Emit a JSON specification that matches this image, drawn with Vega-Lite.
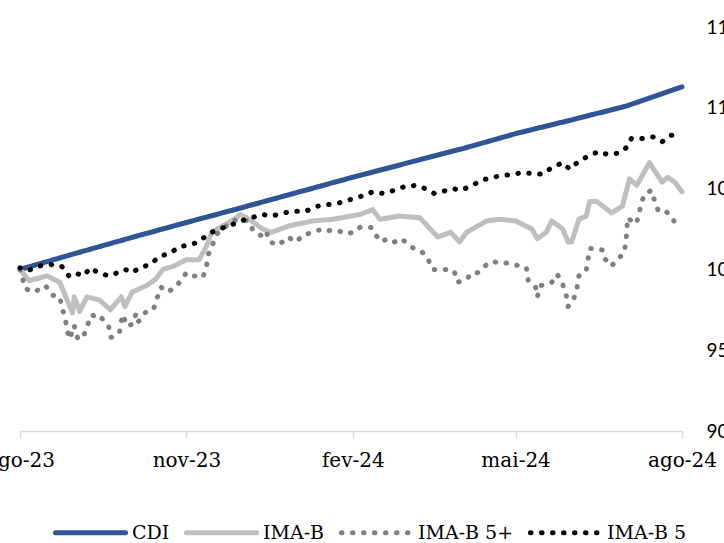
{
  "$schema": "https://vega.github.io/schema/vega-lite/v6.json",
  "width": 662,
  "height": 404,
  "autosize": {"type": "none"},
  "padding": {"left": 20, "top": 27, "right": 42, "bottom": 112},
  "background": "white",
  "config": {
    "view": {"stroke": null},
    "legend": {
      "symbolType": "stroke",
      "symbolSize": 4900,
      "symbolStrokeWidth": 5,
      "labelFont": "DejaVu Serif",
      "labelFontSize": 19,
      "labelColor": "#000000",
      "labelOffset": 4,
      "columnPadding": 6,
      "labelLimit": 300
    }
  },
  "data": {"values": [
    {"d": "2023-08-01", "s": "CDI", "v": 100.0},
    {"d": "2023-09-01", "s": "CDI", "v": 101.0},
    {"d": "2023-10-01", "s": "CDI", "v": 101.95},
    {"d": "2023-11-01", "s": "CDI", "v": 102.9},
    {"d": "2023-12-01", "s": "CDI", "v": 103.8},
    {"d": "2024-01-01", "s": "CDI", "v": 104.75},
    {"d": "2024-02-01", "s": "CDI", "v": 105.7},
    {"d": "2024-03-01", "s": "CDI", "v": 106.55},
    {"d": "2024-04-01", "s": "CDI", "v": 107.45},
    {"d": "2024-05-01", "s": "CDI", "v": 108.4},
    {"d": "2024-06-01", "s": "CDI", "v": 109.25},
    {"d": "2024-07-01", "s": "CDI", "v": 110.1},
    {"d": "2024-08-01", "s": "CDI", "v": 111.3},

    {"d": "2023-08-01", "s": "IMA-B", "v": 100.0},
    {"d": "2023-08-06", "s": "IMA-B", "v": 99.3},
    {"d": "2023-08-16", "s": "IMA-B", "v": 99.6},
    {"d": "2023-08-23", "s": "IMA-B", "v": 99.2},
    {"d": "2023-08-30", "s": "IMA-B", "v": 97.3},
    {"d": "2023-08-31", "s": "IMA-B", "v": 98.3},
    {"d": "2023-09-03", "s": "IMA-B", "v": 97.4},
    {"d": "2023-09-07", "s": "IMA-B", "v": 98.3},
    {"d": "2023-09-14", "s": "IMA-B", "v": 98.1},
    {"d": "2023-09-20", "s": "IMA-B", "v": 97.5},
    {"d": "2023-09-26", "s": "IMA-B", "v": 98.3},
    {"d": "2023-09-28", "s": "IMA-B", "v": 97.7},
    {"d": "2023-10-02", "s": "IMA-B", "v": 98.6},
    {"d": "2023-10-10", "s": "IMA-B", "v": 99.0},
    {"d": "2023-10-15", "s": "IMA-B", "v": 99.4},
    {"d": "2023-10-19", "s": "IMA-B", "v": 100.0},
    {"d": "2023-10-25", "s": "IMA-B", "v": 100.2},
    {"d": "2023-11-01", "s": "IMA-B", "v": 100.6},
    {"d": "2023-11-08", "s": "IMA-B", "v": 100.6},
    {"d": "2023-11-12", "s": "IMA-B", "v": 101.4},
    {"d": "2023-11-15", "s": "IMA-B", "v": 102.3},
    {"d": "2023-11-26", "s": "IMA-B", "v": 103.0},
    {"d": "2023-12-01", "s": "IMA-B", "v": 103.4},
    {"d": "2023-12-07", "s": "IMA-B", "v": 103.0},
    {"d": "2023-12-13", "s": "IMA-B", "v": 102.5},
    {"d": "2023-12-18", "s": "IMA-B", "v": 102.3},
    {"d": "2023-12-28", "s": "IMA-B", "v": 102.7},
    {"d": "2024-01-10", "s": "IMA-B", "v": 103.0},
    {"d": "2024-01-21", "s": "IMA-B", "v": 103.1},
    {"d": "2024-02-05", "s": "IMA-B", "v": 103.4},
    {"d": "2024-02-12", "s": "IMA-B", "v": 103.7},
    {"d": "2024-02-16", "s": "IMA-B", "v": 103.1},
    {"d": "2024-02-27", "s": "IMA-B", "v": 103.3},
    {"d": "2024-03-09", "s": "IMA-B", "v": 103.2},
    {"d": "2024-03-19", "s": "IMA-B", "v": 102.0},
    {"d": "2024-03-26", "s": "IMA-B", "v": 102.3},
    {"d": "2024-03-31", "s": "IMA-B", "v": 101.7},
    {"d": "2024-04-04", "s": "IMA-B", "v": 102.3},
    {"d": "2024-04-15", "s": "IMA-B", "v": 103.0},
    {"d": "2024-04-22", "s": "IMA-B", "v": 103.1},
    {"d": "2024-05-01", "s": "IMA-B", "v": 103.0},
    {"d": "2024-05-10", "s": "IMA-B", "v": 102.5},
    {"d": "2024-05-13", "s": "IMA-B", "v": 101.9},
    {"d": "2024-05-18", "s": "IMA-B", "v": 102.3},
    {"d": "2024-05-21", "s": "IMA-B", "v": 103.0},
    {"d": "2024-05-27", "s": "IMA-B", "v": 102.5},
    {"d": "2024-05-30", "s": "IMA-B", "v": 101.7},
    {"d": "2024-06-01", "s": "IMA-B", "v": 101.7},
    {"d": "2024-06-05", "s": "IMA-B", "v": 103.1},
    {"d": "2024-06-09", "s": "IMA-B", "v": 103.3},
    {"d": "2024-06-11", "s": "IMA-B", "v": 104.2},
    {"d": "2024-06-15", "s": "IMA-B", "v": 104.2},
    {"d": "2024-06-23", "s": "IMA-B", "v": 103.5},
    {"d": "2024-06-29", "s": "IMA-B", "v": 103.9},
    {"d": "2024-07-03", "s": "IMA-B", "v": 105.6},
    {"d": "2024-07-07", "s": "IMA-B", "v": 105.2},
    {"d": "2024-07-14", "s": "IMA-B", "v": 106.6},
    {"d": "2024-07-21", "s": "IMA-B", "v": 105.4},
    {"d": "2024-07-24", "s": "IMA-B", "v": 105.7},
    {"d": "2024-07-28", "s": "IMA-B", "v": 105.4},
    {"d": "2024-08-01", "s": "IMA-B", "v": 104.8},

    {"d": "2023-08-01", "s": "IMA-B 5+", "v": 100.0},
    {"d": "2023-08-04", "s": "IMA-B 5+", "v": 98.8},
    {"d": "2023-08-09", "s": "IMA-B 5+", "v": 98.6},
    {"d": "2023-08-15", "s": "IMA-B 5+", "v": 99.0},
    {"d": "2023-08-19", "s": "IMA-B 5+", "v": 98.4},
    {"d": "2023-08-23", "s": "IMA-B 5+", "v": 98.3},
    {"d": "2023-08-24", "s": "IMA-B 5+", "v": 97.7},
    {"d": "2023-08-26", "s": "IMA-B 5+", "v": 97.0},
    {"d": "2023-08-27", "s": "IMA-B 5+", "v": 96.2},
    {"d": "2023-08-29", "s": "IMA-B 5+", "v": 95.7},
    {"d": "2023-08-30", "s": "IMA-B 5+", "v": 96.5},
    {"d": "2023-08-31", "s": "IMA-B 5+", "v": 96.5},
    {"d": "2023-09-02", "s": "IMA-B 5+", "v": 95.7},
    {"d": "2023-09-05", "s": "IMA-B 5+", "v": 95.8},
    {"d": "2023-09-07", "s": "IMA-B 5+", "v": 96.5},
    {"d": "2023-09-10", "s": "IMA-B 5+", "v": 97.2},
    {"d": "2023-09-13", "s": "IMA-B 5+", "v": 96.9},
    {"d": "2023-09-15", "s": "IMA-B 5+", "v": 97.0},
    {"d": "2023-09-19", "s": "IMA-B 5+", "v": 96.5},
    {"d": "2023-09-20", "s": "IMA-B 5+", "v": 95.8},
    {"d": "2023-09-21", "s": "IMA-B 5+", "v": 95.8},
    {"d": "2023-09-25", "s": "IMA-B 5+", "v": 96.1},
    {"d": "2023-09-26", "s": "IMA-B 5+", "v": 96.8},
    {"d": "2023-09-27", "s": "IMA-B 5+", "v": 97.2},
    {"d": "2023-09-29", "s": "IMA-B 5+", "v": 96.5},
    {"d": "2023-10-02", "s": "IMA-B 5+", "v": 96.6},
    {"d": "2023-10-04", "s": "IMA-B 5+", "v": 97.2},
    {"d": "2023-10-05", "s": "IMA-B 5+", "v": 96.7},
    {"d": "2023-10-09", "s": "IMA-B 5+", "v": 97.3},
    {"d": "2023-10-12", "s": "IMA-B 5+", "v": 97.6},
    {"d": "2023-10-14", "s": "IMA-B 5+", "v": 97.6},
    {"d": "2023-10-16", "s": "IMA-B 5+", "v": 98.3},
    {"d": "2023-10-18", "s": "IMA-B 5+", "v": 98.9},
    {"d": "2023-10-21", "s": "IMA-B 5+", "v": 98.6},
    {"d": "2023-10-25", "s": "IMA-B 5+", "v": 98.8},
    {"d": "2023-10-29", "s": "IMA-B 5+", "v": 99.3},
    {"d": "2023-11-01", "s": "IMA-B 5+", "v": 99.8},
    {"d": "2023-11-05", "s": "IMA-B 5+", "v": 99.6},
    {"d": "2023-11-10", "s": "IMA-B 5+", "v": 99.5},
    {"d": "2023-11-12", "s": "IMA-B 5+", "v": 100.1},
    {"d": "2023-11-13", "s": "IMA-B 5+", "v": 100.9},
    {"d": "2023-11-18", "s": "IMA-B 5+", "v": 102.2},
    {"d": "2023-11-22", "s": "IMA-B 5+", "v": 102.6},
    {"d": "2023-11-27", "s": "IMA-B 5+", "v": 103.0},
    {"d": "2023-11-30", "s": "IMA-B 5+", "v": 103.1},
    {"d": "2023-12-05", "s": "IMA-B 5+", "v": 103.0},
    {"d": "2023-12-08", "s": "IMA-B 5+", "v": 102.4},
    {"d": "2023-12-12", "s": "IMA-B 5+", "v": 102.1},
    {"d": "2023-12-15", "s": "IMA-B 5+", "v": 102.4},
    {"d": "2023-12-17", "s": "IMA-B 5+", "v": 101.7},
    {"d": "2023-12-22", "s": "IMA-B 5+", "v": 101.5},
    {"d": "2023-12-27", "s": "IMA-B 5+", "v": 102.0},
    {"d": "2024-01-01", "s": "IMA-B 5+", "v": 101.7},
    {"d": "2024-01-04", "s": "IMA-B 5+", "v": 102.1},
    {"d": "2024-01-10", "s": "IMA-B 5+", "v": 102.3},
    {"d": "2024-01-15", "s": "IMA-B 5+", "v": 102.5},
    {"d": "2024-01-19", "s": "IMA-B 5+", "v": 102.4},
    {"d": "2024-01-24", "s": "IMA-B 5+", "v": 102.4},
    {"d": "2024-01-28", "s": "IMA-B 5+", "v": 102.2},
    {"d": "2024-02-02", "s": "IMA-B 5+", "v": 102.3},
    {"d": "2024-02-05", "s": "IMA-B 5+", "v": 102.6},
    {"d": "2024-02-11", "s": "IMA-B 5+", "v": 102.6},
    {"d": "2024-02-13", "s": "IMA-B 5+", "v": 102.2},
    {"d": "2024-02-17", "s": "IMA-B 5+", "v": 101.7},
    {"d": "2024-02-20", "s": "IMA-B 5+", "v": 101.9},
    {"d": "2024-02-24", "s": "IMA-B 5+", "v": 101.7},
    {"d": "2024-02-28", "s": "IMA-B 5+", "v": 101.9},
    {"d": "2024-03-03", "s": "IMA-B 5+", "v": 101.5},
    {"d": "2024-03-07", "s": "IMA-B 5+", "v": 101.2},
    {"d": "2024-03-10", "s": "IMA-B 5+", "v": 101.1},
    {"d": "2024-03-13", "s": "IMA-B 5+", "v": 100.8},
    {"d": "2024-03-16", "s": "IMA-B 5+", "v": 100.0},
    {"d": "2024-03-19", "s": "IMA-B 5+", "v": 100.0},
    {"d": "2024-03-24", "s": "IMA-B 5+", "v": 100.0},
    {"d": "2024-03-28", "s": "IMA-B 5+", "v": 99.9},
    {"d": "2024-03-30", "s": "IMA-B 5+", "v": 99.2},
    {"d": "2024-04-01", "s": "IMA-B 5+", "v": 99.3},
    {"d": "2024-04-04", "s": "IMA-B 5+", "v": 99.4},
    {"d": "2024-04-07", "s": "IMA-B 5+", "v": 99.8},
    {"d": "2024-04-10", "s": "IMA-B 5+", "v": 99.8},
    {"d": "2024-04-15", "s": "IMA-B 5+", "v": 100.3},
    {"d": "2024-04-18", "s": "IMA-B 5+", "v": 100.5},
    {"d": "2024-04-22", "s": "IMA-B 5+", "v": 100.4},
    {"d": "2024-04-27", "s": "IMA-B 5+", "v": 100.4},
    {"d": "2024-04-30", "s": "IMA-B 5+", "v": 100.3},
    {"d": "2024-05-04", "s": "IMA-B 5+", "v": 100.2},
    {"d": "2024-05-07", "s": "IMA-B 5+", "v": 100.1},
    {"d": "2024-05-08", "s": "IMA-B 5+", "v": 99.3},
    {"d": "2024-05-12", "s": "IMA-B 5+", "v": 98.9},
    {"d": "2024-05-13", "s": "IMA-B 5+", "v": 98.3},
    {"d": "2024-05-15", "s": "IMA-B 5+", "v": 99.0},
    {"d": "2024-05-21", "s": "IMA-B 5+", "v": 99.2},
    {"d": "2024-05-24", "s": "IMA-B 5+", "v": 99.7},
    {"d": "2024-05-27", "s": "IMA-B 5+", "v": 99.1},
    {"d": "2024-05-29", "s": "IMA-B 5+", "v": 98.4},
    {"d": "2024-05-30", "s": "IMA-B 5+", "v": 97.7},
    {"d": "2024-06-02", "s": "IMA-B 5+", "v": 98.1},
    {"d": "2024-06-04", "s": "IMA-B 5+", "v": 98.9},
    {"d": "2024-06-05", "s": "IMA-B 5+", "v": 99.6},
    {"d": "2024-06-09", "s": "IMA-B 5+", "v": 99.9},
    {"d": "2024-06-10", "s": "IMA-B 5+", "v": 100.6},
    {"d": "2024-06-11", "s": "IMA-B 5+", "v": 101.3},
    {"d": "2024-06-14", "s": "IMA-B 5+", "v": 101.3},
    {"d": "2024-06-18", "s": "IMA-B 5+", "v": 101.2},
    {"d": "2024-06-19", "s": "IMA-B 5+", "v": 100.7},
    {"d": "2024-06-23", "s": "IMA-B 5+", "v": 100.2},
    {"d": "2024-06-26", "s": "IMA-B 5+", "v": 100.6},
    {"d": "2024-06-30", "s": "IMA-B 5+", "v": 101.0},
    {"d": "2024-07-01", "s": "IMA-B 5+", "v": 101.7},
    {"d": "2024-07-02", "s": "IMA-B 5+", "v": 103.2},
    {"d": "2024-07-06", "s": "IMA-B 5+", "v": 102.8},
    {"d": "2024-07-08", "s": "IMA-B 5+", "v": 103.2},
    {"d": "2024-07-09", "s": "IMA-B 5+", "v": 103.9},
    {"d": "2024-07-11", "s": "IMA-B 5+", "v": 104.6},
    {"d": "2024-07-15", "s": "IMA-B 5+", "v": 104.9},
    {"d": "2024-07-17", "s": "IMA-B 5+", "v": 104.2},
    {"d": "2024-07-19", "s": "IMA-B 5+", "v": 103.6},
    {"d": "2024-07-23", "s": "IMA-B 5+", "v": 103.6},
    {"d": "2024-07-26", "s": "IMA-B 5+", "v": 103.3},
    {"d": "2024-07-29", "s": "IMA-B 5+", "v": 102.7},
    {"d": "2024-07-31", "s": "IMA-B 5+", "v": 102.5},

    {"d": "2023-08-01", "s": "IMA-B 5", "v": 100.1},
    {"d": "2023-08-05", "s": "IMA-B 5", "v": 99.9},
    {"d": "2023-08-11", "s": "IMA-B 5", "v": 100.2},
    {"d": "2023-08-18", "s": "IMA-B 5", "v": 100.3},
    {"d": "2023-08-24", "s": "IMA-B 5", "v": 100.2},
    {"d": "2023-08-28", "s": "IMA-B 5", "v": 99.6},
    {"d": "2023-08-31", "s": "IMA-B 5", "v": 99.8},
    {"d": "2023-09-05", "s": "IMA-B 5", "v": 99.6},
    {"d": "2023-09-09", "s": "IMA-B 5", "v": 100.1},
    {"d": "2023-09-13", "s": "IMA-B 5", "v": 99.8},
    {"d": "2023-09-19", "s": "IMA-B 5", "v": 99.6},
    {"d": "2023-09-24", "s": "IMA-B 5", "v": 99.8},
    {"d": "2023-09-28", "s": "IMA-B 5", "v": 100.0},
    {"d": "2023-10-02", "s": "IMA-B 5", "v": 99.8},
    {"d": "2023-10-06", "s": "IMA-B 5", "v": 100.1},
    {"d": "2023-10-12", "s": "IMA-B 5", "v": 100.3},
    {"d": "2023-10-17", "s": "IMA-B 5", "v": 100.8},
    {"d": "2023-10-23", "s": "IMA-B 5", "v": 101.0},
    {"d": "2023-10-28", "s": "IMA-B 5", "v": 101.4},
    {"d": "2023-11-02", "s": "IMA-B 5", "v": 101.5},
    {"d": "2023-11-08", "s": "IMA-B 5", "v": 101.7},
    {"d": "2023-11-13", "s": "IMA-B 5", "v": 102.2},
    {"d": "2023-11-19", "s": "IMA-B 5", "v": 102.5},
    {"d": "2023-11-25", "s": "IMA-B 5", "v": 102.7},
    {"d": "2023-12-01", "s": "IMA-B 5", "v": 103.0},
    {"d": "2023-12-07", "s": "IMA-B 5", "v": 103.2},
    {"d": "2023-12-13", "s": "IMA-B 5", "v": 103.4},
    {"d": "2023-12-18", "s": "IMA-B 5", "v": 103.3},
    {"d": "2023-12-25", "s": "IMA-B 5", "v": 103.5},
    {"d": "2023-12-31", "s": "IMA-B 5", "v": 103.6},
    {"d": "2024-01-06", "s": "IMA-B 5", "v": 103.6},
    {"d": "2024-01-12", "s": "IMA-B 5", "v": 103.9},
    {"d": "2024-01-18", "s": "IMA-B 5", "v": 104.0},
    {"d": "2024-01-24", "s": "IMA-B 5", "v": 104.1},
    {"d": "2024-01-30", "s": "IMA-B 5", "v": 104.3},
    {"d": "2024-02-05", "s": "IMA-B 5", "v": 104.5},
    {"d": "2024-02-12", "s": "IMA-B 5", "v": 104.8},
    {"d": "2024-02-18", "s": "IMA-B 5", "v": 104.7},
    {"d": "2024-02-24", "s": "IMA-B 5", "v": 104.9},
    {"d": "2024-02-29", "s": "IMA-B 5", "v": 105.1},
    {"d": "2024-03-07", "s": "IMA-B 5", "v": 105.2},
    {"d": "2024-03-12", "s": "IMA-B 5", "v": 105.0},
    {"d": "2024-03-17", "s": "IMA-B 5", "v": 104.7},
    {"d": "2024-03-21", "s": "IMA-B 5", "v": 104.8},
    {"d": "2024-03-27", "s": "IMA-B 5", "v": 105.0},
    {"d": "2024-04-01", "s": "IMA-B 5", "v": 104.9},
    {"d": "2024-04-07", "s": "IMA-B 5", "v": 105.2},
    {"d": "2024-04-12", "s": "IMA-B 5", "v": 105.5},
    {"d": "2024-04-18", "s": "IMA-B 5", "v": 105.7},
    {"d": "2024-04-24", "s": "IMA-B 5", "v": 105.8},
    {"d": "2024-04-30", "s": "IMA-B 5", "v": 105.9},
    {"d": "2024-05-06", "s": "IMA-B 5", "v": 106.0},
    {"d": "2024-05-11", "s": "IMA-B 5", "v": 105.9},
    {"d": "2024-05-16", "s": "IMA-B 5", "v": 105.9},
    {"d": "2024-05-21", "s": "IMA-B 5", "v": 106.3},
    {"d": "2024-05-27", "s": "IMA-B 5", "v": 106.6},
    {"d": "2024-05-31", "s": "IMA-B 5", "v": 106.2},
    {"d": "2024-06-05", "s": "IMA-B 5", "v": 106.7},
    {"d": "2024-06-10", "s": "IMA-B 5", "v": 107.0},
    {"d": "2024-06-16", "s": "IMA-B 5", "v": 107.3},
    {"d": "2024-06-21", "s": "IMA-B 5", "v": 107.1},
    {"d": "2024-06-27", "s": "IMA-B 5", "v": 107.2},
    {"d": "2024-07-02", "s": "IMA-B 5", "v": 107.6},
    {"d": "2024-07-04", "s": "IMA-B 5", "v": 108.1},
    {"d": "2024-07-11", "s": "IMA-B 5", "v": 108.1},
    {"d": "2024-07-16", "s": "IMA-B 5", "v": 108.2},
    {"d": "2024-07-21", "s": "IMA-B 5", "v": 107.9},
    {"d": "2024-07-26", "s": "IMA-B 5", "v": 108.3},
    {"d": "2024-07-29", "s": "IMA-B 5", "v": 108.3}
  ]},
  "mark": {"type": "line", "strokeWidth": 5, "strokeCap": "round", "strokeJoin": "round"},
  "encoding": {
    "x": {
      "field": "d",
      "type": "temporal",
      "scale": {"type": "utc", "domain": [{"year": 2023, "month": 8, "date": 1, "utc": true}, {"year": 2024, "month": 8, "date": 1, "utc": true}], "nice": false},
      "axis": {
        "title": null,
        "values": [
          {"year": 2023, "month": 8, "date": 1, "utc": true},
          {"year": 2023, "month": 11, "date": 1, "utc": true},
          {"year": 2024, "month": 2, "date": 1, "utc": true},
          {"year": 2024, "month": 5, "date": 1, "utc": true},
          {"year": 2024, "month": 8, "date": 1, "utc": true}
        ],
        "labelExpr": "['jan','fev','mar','abr','mai','jun','jul','ago','set','out','nov','dez'][utcmonth(datum.value)] + '-' + utcFormat(datum.value, '%y')",
        "grid": false,
        "domainColor": "#D9D9D9",
        "domainWidth": 1.5,
        "tickColor": "#D9D9D9",
        "tickWidth": 1.5,
        "tickSize": 7,
        "labelFont": "DejaVu Serif",
        "labelFontSize": 20,
        "labelColor": "#000000",
        "labelPadding": 12,
        "labelFlush": false,
        "labelOverlap": false,
        "labelBound": false
      }
    },
    "y": {
      "field": "v",
      "type": "quantitative",
      "scale": {"domain": [90, 115], "nice": false, "zero": false},
      "axis": {
        "title": null,
        "orient": "right",
        "values": [90, 95, 100, 105, 110, 115],
        "grid": false,
        "domain": false,
        "ticks": false,
        "tickSize": 0,
        "labelPadding": 24,
        "labelAlign": "left",
        "labelBaseline": "middle",
        "labelFont": "Lato",
        "labelFontSize": 19,
        "labelColor": "#000000",
        "labelFlush": false,
        "labelOverlap": false,
        "labelBound": false
      }
    },
    "color": {
      "field": "s",
      "type": "nominal",
      "scale": {"domain": ["CDI", "IMA-B", "IMA-B 5+", "IMA-B 5"], "range": ["#2F5597", "#BFBFBF", "#808080", "#000000"]},
      "legend": {
        "title": null,
        "orient": "none",
        "direction": "horizontal",
        "legendX": 33,
        "legendY": 468,
        "encode": {"symbols": {"update": {
          "strokeCap": {"value": "round"},
          "strokeWidth": {"value": 5},
          "strokeDash": {"signal": "indexof(datum.label, '5') >= 0 ? [0.5, 10.5] : [1, 0]"}
        }}}
      }
    },
    "strokeDash": {
      "field": "s",
      "type": "nominal",
      "scale": {"domain": ["CDI", "IMA-B", "IMA-B 5+", "IMA-B 5"], "range": [[1, 0], [1, 0], [0.5, 10.5], [0.5, 10.5]]},
      "legend": null
    }
  }
}
